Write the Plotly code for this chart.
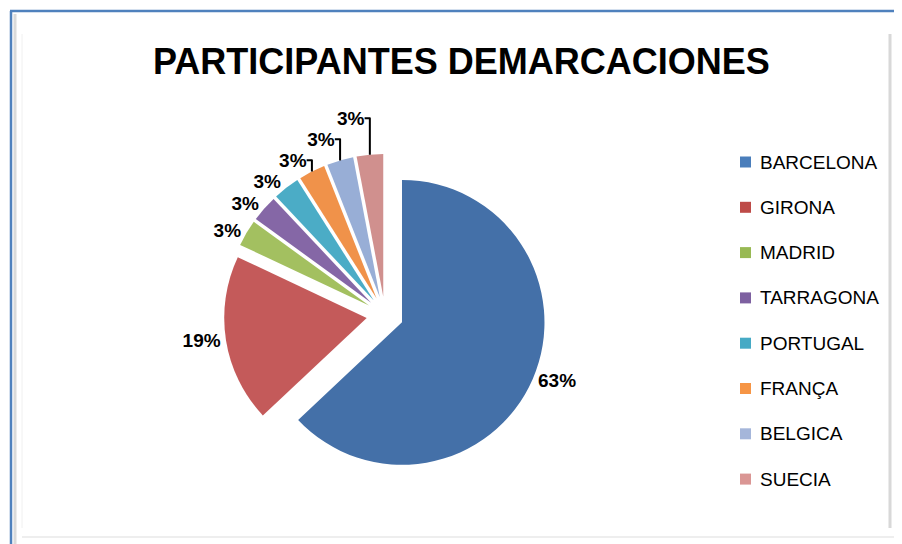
import plotly.graph_objects as go

W, H = 902, 544
OX, OY = 8, 8  # page body margin offset


def px(x):
    return (x - OX) / W


def py(y):
    return 1 - (y - OY) / H


categories = ["BARCELONA", "GIRONA", "MADRID", "TARRAGONA", "PORTUGAL", "FRANÇA", "BELGICA", "SUECIA"]
values = [63, 19, 3, 3, 3, 3, 3, 3]
slice_colors = ["#4470A8", "#C45A5A", "#A3C060", "#8567A6", "#4BACC6", "#F0924A", "#98AED6", "#D0908E"]
legend_colors = ["#4A7EBB", "#BE4B48", "#98B954", "#7D60A0", "#46AAC5", "#F69545", "#A5B6DA", "#DA9694"]
title_text = "PARTICIPANTES DEMARCACIONES"

cx, cy, half = 385, 315, 161

fig = go.Figure()
fig.add_trace(go.Pie(
    labels=categories,
    values=values,
    sort=False,
    direction="clockwise",
    rotation=0,
    pull=[0.13] * len(values),
    marker=dict(colors=slice_colors, line=dict(color="white", width=0)),
    textinfo="percent",
    textposition="outside",
    textfont=dict(family="Liberation Sans", size=19, color="black", weight="bold"),
    domain=dict(x=[px(cx - half), px(cx + half)], y=[py(cy + half), py(cy - half)]),
    showlegend=False,
    hoverinfo="label+value+percent",
))

# custom legend built from the category list
shapes = []
annotations = []
y0 = 162
step = 45.3
for i, (lab, col) in enumerate(zip(categories, legend_colors)):
    yc = y0 + i * step
    shapes.append(dict(type="rect", xref="paper", yref="paper",
                       x0=px(740), x1=px(751),
                       y0=py(yc + 5.5), y1=py(yc - 5.5),
                       fillcolor=col, line=dict(width=0)))
    annotations.append(dict(text=lab, xref="paper", yref="paper",
                            x=px(758), y=py(yc), xanchor="left", yanchor="middle",
                            showarrow=False,
                            font=dict(family="Liberation Sans", size=19, color="black")))

# chart frame
frame_lines = [
    (10, 11, 910, 11, "#4F81BD", 2.5),
    (11, 11, 11, 560, "#4F81BD", 2.5),
    (15, 14, 15, 560, "#DADADA", 3),
    (890, 34, 890, 528, "#D8D8D8", 3),
    (22, 537, 900, 537, "#EEEEEE", 2),
    (22, 34, 22, 528, "#F0F0F0", 1),
]
for x0, y0_, x1, y1, c, w in frame_lines:
    shapes.append(dict(type="line", xref="paper", yref="paper",
                       x0=px(x0), y0=py(y0_), x1=px(x1), y1=py(y1),
                       line=dict(color=c, width=w)))

annotations.append(dict(text=title_text, xref="paper", yref="paper",
                        x=px(461), y=py(62), xanchor="center", yanchor="middle",
                        showarrow=False,
                        font=dict(family="Liberation Sans", size=36, color="black", weight="bold")))

fig.update_layout(
    width=W, height=H,
    margin=dict(l=0, r=0, t=0, b=0),
    paper_bgcolor="white",
    plot_bgcolor="white",
    shapes=shapes,
    annotations=annotations,
)

fig.write_html("out.html")
